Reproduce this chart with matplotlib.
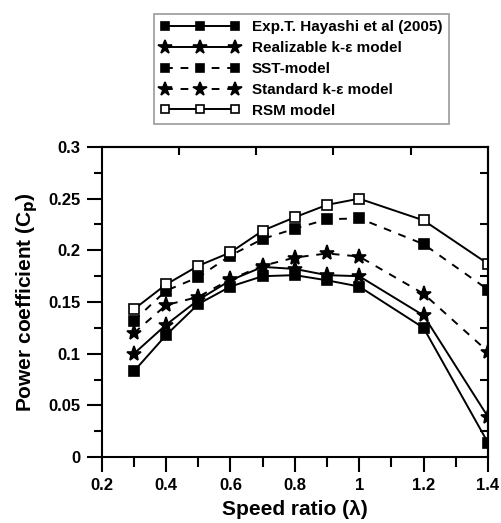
import numpy as np
import matplotlib
matplotlib.use("Agg")
import matplotlib.pyplot as plt
from matplotlib.ticker import MultipleLocator, FixedLocator

plt.rcParams["font.family"] = ["Liberation Sans", "DejaVu Sans"]
plt.rcParams["font.weight"] = "bold"

SPEED = [0.3, 0.4, 0.5, 0.6, 0.7, 0.8, 0.9, 1.0, 1.2, 1.4]
EXP = [0.083, 0.118, 0.148, 0.165, 0.175, 0.176, 0.171, 0.165, 0.125, 0.014]
REALIZABLE = [0.100, 0.128, 0.152, 0.171, 0.184, 0.182, 0.176, 0.175, 0.137, 0.039]
SST = [0.132, 0.161, 0.174, 0.195, 0.211, 0.221, 0.230, 0.231, 0.206, 0.162]
STANDARD = [0.120, 0.147, 0.155, 0.172, 0.185, 0.193, 0.197, 0.194, 0.158, 0.102]
RSM = [0.143, 0.167, 0.185, 0.198, 0.219, 0.232, 0.244, 0.250, 0.229, 0.187]

LABELS = ["Exp.T. Hayashi et al (2005)", "Realizable k-\u03b5 model", "SST-model",
          "Standard k-\u03b5 model", "RSM model"]

fig = plt.figure(figsize=(5.02, 5.23), dpi=100)
ax = fig.add_axes([0.2026, 0.126, 0.7694, 0.593])

dash = (0, (4, 4))
series = [
    (EXP, "-", "s", "black", 7),
    (REALIZABLE, "-", "*", "black", 11),
    (SST, dash, "s", "black", 7),
    (STANDARD, dash, "*", "black", 11),
    (RSM, "-", "s", "white", 7),
]
handles = []
for (vals, ls, mk, fc, ms), lab in zip(series, LABELS):
    h, = ax.plot(SPEED, vals, linestyle=ls, marker=mk, color="black", mfc=fc,
                 mec="black", ms=ms, lw=1.4, mew=1.2, label=lab)
    handles.append(h)

ax.set_xlim(0.2, 1.4)
ax.set_ylim(0, 0.3)
ax.xaxis.set_minor_locator(MultipleLocator(0.1))
ax.yaxis.set_minor_locator(MultipleLocator(0.025))
ax.set_xticks([0.2, 0.4, 0.6, 0.8, 1.0, 1.2, 1.4])
ax.set_xticklabels(["0.2", "0.4", "0.6", "0.8", "1", "1.2", "1.4"])
ax.set_yticks([0, 0.05, 0.1, 0.15, 0.2, 0.25, 0.3])
ax.set_yticklabels(["0", "0.05", "0.1", "0.15", "0.2", "0.25", "0.3"])
ax.tick_params(which="major", direction="out", length=11, width=1.5, labelsize=12, pad=4)
ax.tick_params(which="minor", direction="out", length=6, width=1.5)
ax.tick_params(axis="x", which="minor", length=7)
for s in ax.spines.values():
    s.set_linewidth(1.5)

# inward ticks on top and right spines
top = ax.secondary_xaxis("top")
top.xaxis.set_major_locator(FixedLocator([0.44, 0.68, 0.92, 1.16]))
top.tick_params(direction="in", length=6, width=1.5, labeltop=False)
top.spines["top"].set_linewidth(1.5)
right = ax.secondary_yaxis("right")
right.yaxis.set_major_locator(FixedLocator([0.025, 0.075, 0.125, 0.175, 0.225, 0.275]))
right.tick_params(direction="in", length=6, width=1.5, labelright=False)
right.spines["right"].set_linewidth(1.5)

ax.set_xlabel("Speed ratio (\u03bb)", fontsize=15, fontweight="bold", labelpad=5)
ax.set_ylabel("Power coefficient (C$_\\mathbf{p}$)", fontsize=15, fontweight="bold", labelpad=6)

leg = fig.legend(handles=handles, loc="upper left", bbox_to_anchor=(0.307, 0.973),
                 numpoints=3, handlelength=5.2, fontsize=11, frameon=True,
                 fancybox=False, edgecolor="0.5", borderpad=0.4, labelspacing=0.45,
                 handletextpad=0.8, borderaxespad=0, markerscale=0.9)
leg.get_frame().set_linewidth(1.2)

fig.savefig("out.png", dpi=100)
